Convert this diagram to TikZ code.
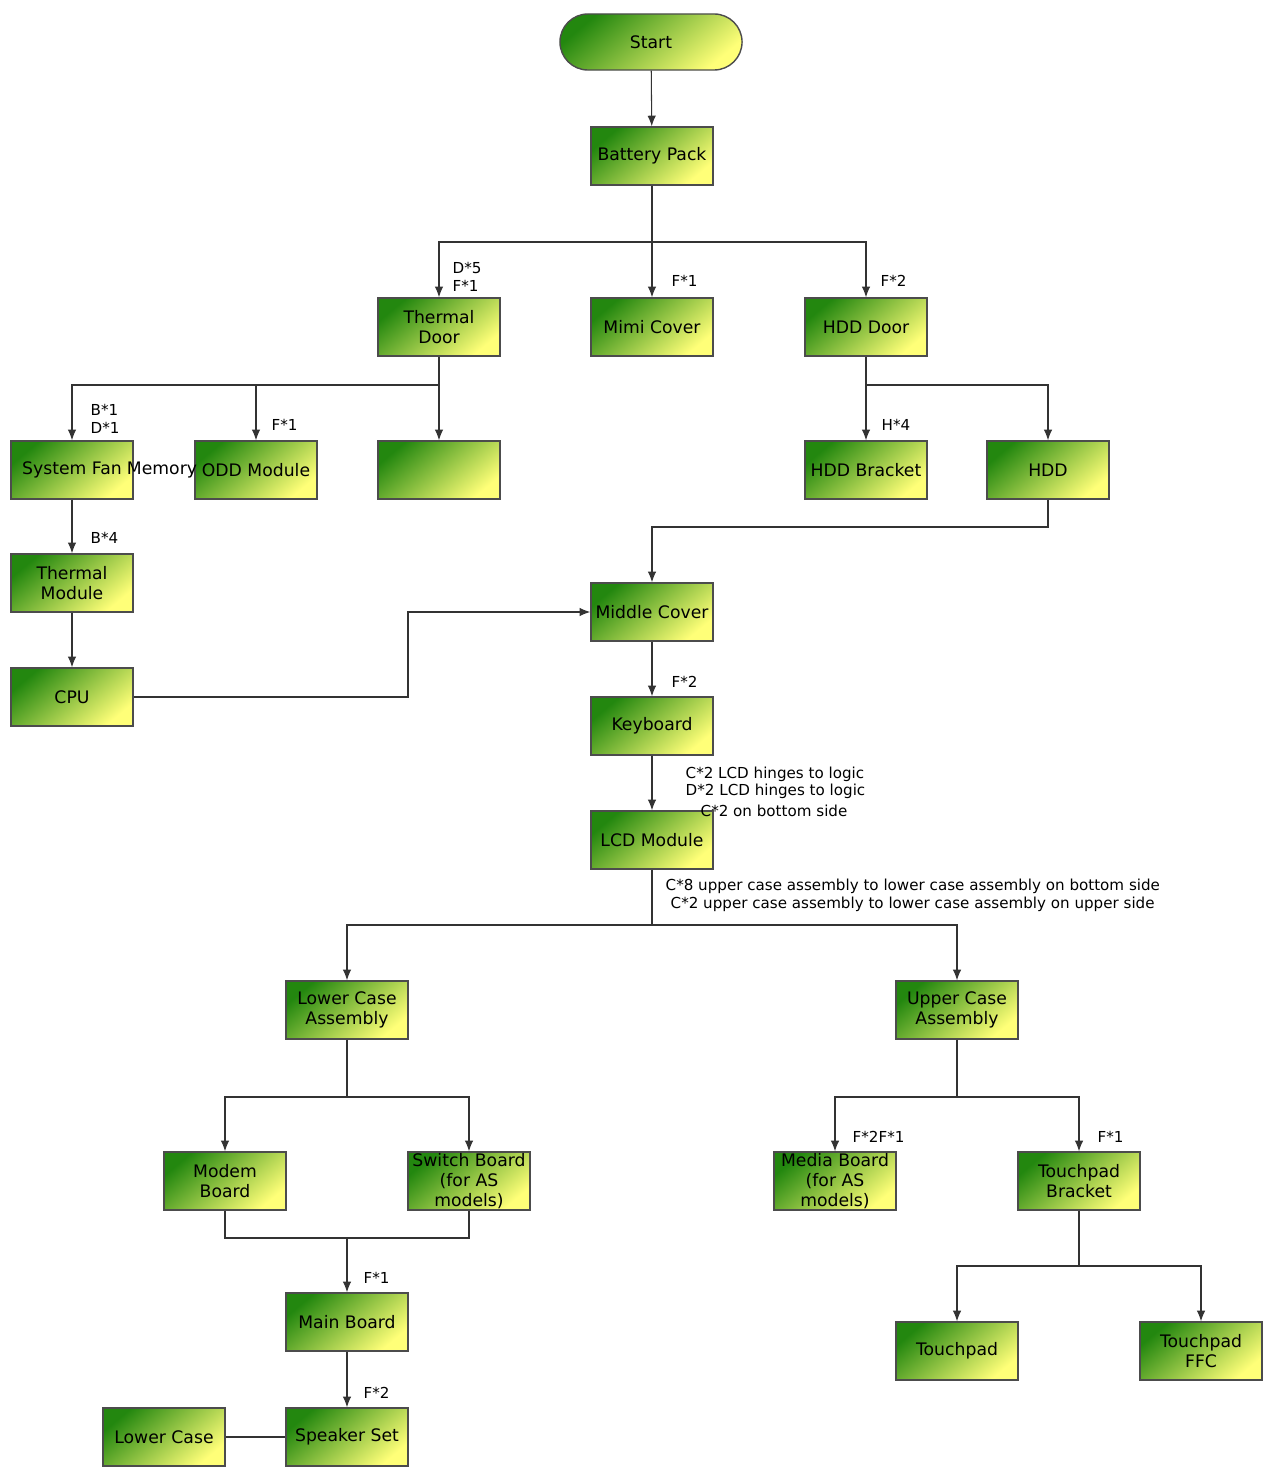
\documentclass[tikz,border=0pt]{standalone}
\usepackage{fontspec}
\setmainfont{DejaVu Sans}
\usetikzlibrary{arrows.meta}
\definecolor{dg}{RGB}{35,135,15}
\definecolor{yl}{RGB}{255,255,120}
\tikzset{
 box/.style={draw=black!70, minimum width=1.22cm, minimum height=0.58cm, inner sep=0pt,
   left color=dg, right color=yl, shading angle=40, font=\fontsize{4.9}{5.6}\selectfont, align=center},
 lbl/.style={font=\fontsize{4.3}{5}\selectfont, anchor=west, align=left, inner sep=0pt},
 ar/.style={-{Latex[length=3pt,width=2.4pt]}, draw=black!80, line width=0.3pt},
 ln/.style={draw=black!80, line width=0.3pt}
}
\begin{document}
\begin{tikzpicture}[x=0.01cm,y=-0.01cm]
\useasboundingbox (0,0) rectangle (1271,1473);
\node[box, rounded corners=0.28cm, minimum width=1.82cm, minimum height=0.56cm] (start) at (651,42) {Start};
\node[box] (bat) at (652,156) {Battery Pack};
\node[box] (td) at (439,327) {Thermal\\Door};
\node[box] (mc) at (652,327) {Mimi Cover};
\node[box] (hd) at (866,327) {HDD Door};
\node[box] (sf) at (72,470) {System Fan};
\node[box] (odd) at (256,470) {ODD Module};
\node[box] (blank) at (439,470) {};
\node[font=\fontsize{4.9}{5.6}\selectfont, inner sep=0pt] (mem) at (162,470) {Memory};
\node[box] (hb) at (866,470) {HDD Bracket};
\node[box] (hdd) at (1048,470) {HDD};
\node[box] (tm) at (72,583) {Thermal\\Module};
\node[box] (cpu) at (72,697) {CPU};
\node[box] (mid) at (652,612) {Middle Cover};
\node[box] (kb) at (652,726) {Keyboard};
\node[box] (lcd) at (652,840) {LCD Module};
\node[box] (lca) at (347,1010) {Lower Case\\Assembly};
\node[box] (uca) at (957,1010) {Upper Case\\Assembly};
\node[box] (mod) at (225,1181) {Modem\\Board};
\node[box] (sw) at (469,1181) {Switch Board\\(for AS\\models)};
\node[box] (med) at (835,1181) {Media Board\\(for AS\\models)};
\node[box] (tpb) at (1079,1181) {Touchpad\\Bracket};
\node[box] (mb) at (347,1322) {Main Board};
\node[box] (sp) at (347,1437) {Speaker Set};
\node[box] (lc) at (164,1437) {Lower Case};
\node[box] (tp) at (957,1351) {Touchpad};
\node[box] (ffc) at (1201,1351) {Touchpad\\FFC};

\coordinate (j1) at (652,242);
\draw[ar] (start) -- (bat);
\draw[ln] (bat) -- (j1);
\draw[ar] (j1) -- (mc);
\draw[ar] (j1) -| (td);
\draw[ar] (j1) -| (hd);
\coordinate (j2) at (439,385);
\draw[ln] (td) -- (j2);
\draw[ar] (j2) -- (blank);
\draw[ar] (j2) -| (odd);
\draw[ar] (j2) -| (sf);
\coordinate (j3) at (866,385);
\draw[ln] (hd) -- (j3);
\draw[ar] (j3) -- (hb);
\draw[ar] (j3) -| (hdd);
\draw[ar] (sf) -- (tm);
\draw[ar] (tm) -- (cpu);
\coordinate (c1) at (408,697);
\coordinate (c2) at (408,612);
\draw[ar] (cpu.east) -- (c1) -- (c2) -- (mid.west);
\coordinate (h1) at (1048,527);
\coordinate (h2) at (652,527);
\draw[ar] (hdd.south) -- (h1) -- (h2) -- (mid.north);
\draw[ar] (mid) -- (kb);
\draw[ar] (kb) -- (lcd);
\coordinate (j4) at (652,925);
\draw[ln] (lcd) -- (j4);
\draw[ar] (j4) -| (lca);
\draw[ar] (j4) -| (uca);
\coordinate (j5) at (347,1097);
\draw[ln] (lca) -- (j5);
\draw[ar] (j5) -| (mod);
\draw[ar] (j5) -| (sw);
\coordinate (m1) at (225,1238);
\coordinate (m2) at (469,1238);
\coordinate (m3) at (347,1238);
\draw[ln] (mod.south) -- (m1) -- (m2) -- (sw.south);
\draw[ar] (m3) -- (mb);
\draw[ar] (mb) -- (sp);
\draw[ln] (lc) -- (sp);
\coordinate (j6) at (957,1097);
\draw[ln] (uca) -- (j6);
\draw[ar] (j6) -| (med);
\draw[ar] (j6) -| (tpb);
\coordinate (j7) at (1079,1266);
\draw[ln] (tpb) -- (j7);
\draw[ar] (j7) -| (tp);
\draw[ar] (j7) -| (ffc);

\node[lbl] (l1) at (452,277) {D*5\\F*1};
\node[lbl] (l2) at (671,281) {F*1};
\node[lbl] (l3) at (880,281) {F*2};
\node[lbl] (l4) at (90,419) {B*1\\D*1};
\node[lbl] (l5) at (271,425) {F*1};
\node[lbl] (l6) at (881,425) {H*4};
\node[lbl] (l7) at (90,538) {B*4};
\node[lbl] (l8) at (671,682) {F*2};
\node[lbl] (l9) at (685,774) {C*2 LCD hinges to logic};
\node[lbl] (l10) at (685,791) {D*2 LCD hinges to logic};
\node[lbl] (l11) at (700,811) {C*2 on bottom side};
\node[lbl] (l12) at (665,886) {C*8 upper case assembly to lower case assembly on bottom side};
\node[lbl] (l13) at (670,904) {C*2 upper case assembly to lower case assembly on upper side};
\node[lbl] (l14) at (852,1137) {F*2F*1};
\node[lbl] (l15) at (1097,1137) {F*1};
\node[lbl] (l16) at (363,1278) {F*1};
\node[lbl] (l17) at (363,1393) {F*2};
\end{tikzpicture}
\end{document}
